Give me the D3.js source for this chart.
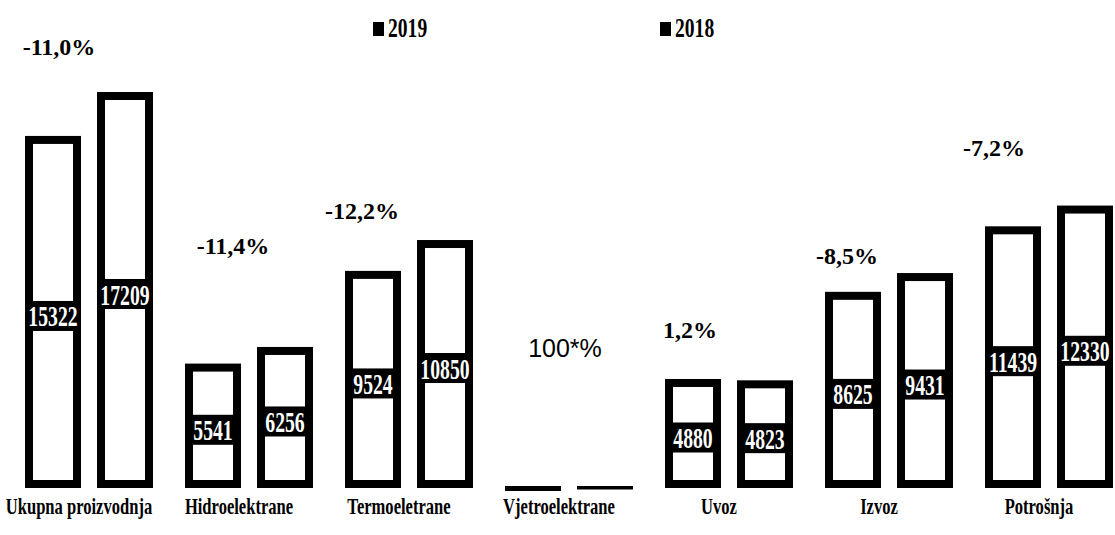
<!DOCTYPE html>
<meta charset="utf-8">
<style>
  body { margin: 0; background: #fff; }
  text { font-family: "Liberation Serif", "Times New Roman", serif; }
</style>
<body>
<script src="https://d3js.org/d3.v7.min.js"></script>
<script>
  // data
  var categories = ["Ukupna proizvodnja", "Hidroelektrane", "Termoeletrane", "Vjetroelektrane", "Uvoz", "Izvoz", "Potrošnja"];
  var years = ["2019", "2018"];
  var values2019 = [15322, 5541, 9524, 30, 4880, 8625, 11439];
  var values2018 = [17209, 6256, 10850, 15, 4823, 9431, 12330];
  var pctLabels = ["-11,0%", "-11,4%", "-12,2%", "100*%", "1,2%", "-8,5%", "-7,2%"];

  // where the % notes sit, relative to the group start and the 2019 bar top
  var pctLayout = [
    {dx: 34, dy: -85}, {dx: 48, dy: -114}, {dx: 17, dy: -56}, {dx: 60, dy: -127},
    {dx: 25, dy: -45}, {dx: 22, dy: -32}, {dx: 9, dy: -74}
  ];

  var width = 1115, height = 535, sw = 8;

  var svg = d3.select("body").append("svg")
      .attr("width", width)
      .attr("height", height);

  svg.append("rect").attr("width", width).attr("height", height).attr("fill", "#fff");

  var x0 = d3.scaleBand().domain(categories).range([9, 1129])
      .paddingInner(0.2).paddingOuter(0.1);
  var x1 = d3.scaleBand().domain(years).range([0, x0.bandwidth()])
      .paddingInner(16 / 72);
  // axis starts a little above zero, so the tiny wind values sit on the floor
  var y = d3.scaleLinear().domain([540, 18000]).range([484, 77.6]);
  var base = y(540);

  var rows = [];
  categories.forEach(function(c, i) {
    rows.push({cat: c, year: "2019", value: values2019[i]});
    rows.push({cat: c, year: "2018", value: values2018[i]});
  });

  var bar = svg.selectAll("g.bar")
    .data(rows)
    .enter().append("g")
      .attr("class", "bar")
      .attr("transform", function(d) { return "translate(" + (x0(d.cat) + x1(d.year)) + ",0)"; });

  var bw = x1.bandwidth();

  bar.each(function(d) {
    var g = d3.select(this);
    var top = Math.min(y(d.value), base);
    var h = base - top;
    if (h < 1) {
      // flat bar: just a thick line on the floor
      g.append("rect")
        .attr("x", 0).attr("y", base + 2)
        .attr("width", bw).attr("height", d.year == "2019" ? 5 : 3.5)
        .attr("fill", "#000");
      return;
    }
    g.append("rect")
      .attr("x", sw / 2).attr("y", top)
      .attr("width", bw - sw).attr("height", h)
      .attr("fill", "#fff")
      .attr("stroke", "#000")
      .attr("stroke-width", sw);

    var cy = (top + base) / 2 + 4;
    g.append("rect")
      .attr("x", 0).attr("y", cy - 15)
      .attr("width", bw).attr("height", 30)
      .attr("fill", "#000");
    var s = String(d.value);
    g.append("g")
      .attr("transform", "translate(" + (bw / 2) + "," + (cy + 10.5) + ") scale(0.68,1)")
      .append("text")
      .attr("text-anchor", "middle")
      .attr("fill", "#fff")
      .attr("font-weight", "bold")
      .attr("font-size", 29)
      .text(s);
  });

  // percent notes
  svg.selectAll("text.pct")
    .data(categories)
    .enter().append("text")
      .attr("class", "pct")
      .attr("x", function(d, i) { return x0(d) + pctLayout[i].dx; })
      .attr("y", function(d, i) { return y(values2019[i]) > base ? base + pctLayout[i].dy : y(values2019[i]) + pctLayout[i].dy; })
      .attr("text-anchor", "middle")
      .attr("font-size", function(d, i) { return pctLabels[i] == "100*%" ? 25 : 24; })
      .attr("font-weight", function(d, i) { return pctLabels[i] == "100*%" ? "normal" : "bold"; })
      .style("font-family", function(d, i) { return pctLabels[i] == "100*%" ? "'Liberation Sans', Arial, sans-serif" : null; })
      .attr("fill", "#000")
      .text(function(d, i) { return pctLabels[i]; });

  // category labels, narrow serif
  svg.selectAll("g.cat")
    .data(categories)
    .enter().append("g")
      .attr("class", "cat")
      .attr("transform", function(d) { return "translate(" + (x0(d) + x0.bandwidth() / 2 - 10) + ",514) scale(0.72,1)"; })
    .append("text")
      .attr("text-anchor", "middle")
      .attr("font-size", 23)
      .attr("font-weight", "bold")
      .text(function(d) { return d; });

  // legend
  var legendX = [373, 660];
  var legend = svg.selectAll("g.legend")
    .data(years)
    .enter().append("g")
      .attr("class", "legend")
      .attr("transform", function(d, i) { return "translate(" + legendX[i] + ",0)"; });
  legend.append("rect")
    .attr("x", 0).attr("y", 22)
    .attr("width", 11).attr("height", 14)
    .attr("fill", "#000");
  legend.append("g")
    .attr("transform", "translate(15,37) scale(0.7,1)")
    .append("text")
    .attr("font-size", 28)
    .attr("font-weight", "bold")
    .text(function(d) { return d; });
</script>
</body>
